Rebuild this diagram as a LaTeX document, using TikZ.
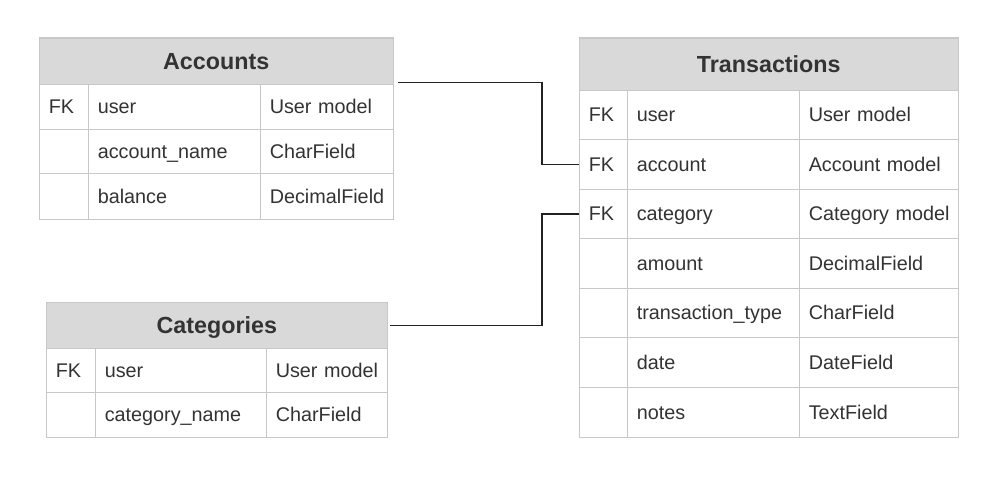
\documentclass[tikz,border=0pt]{standalone}
\usepackage{fontspec}
\setmainfont{Liberation Sans}
\usetikzlibrary{calc}
\definecolor{bordergrey}{HTML}{C8C8C8}
\definecolor{hdrgrey}{HTML}{D9D9D9}
\definecolor{txtgrey}{HTML}{333333}
\definecolor{linegrey}{HTML}{222222}
\tikzset{
  erbox/.style={draw=bordergrey, line width=1.5pt, anchor=north west, inner ysep=0pt, text=txtgrey},
  erhead/.style={erbox, fill=hdrgrey, font=\fontsize{23.3}{24}\selectfont\bfseries,
    text height=16.7pt, text depth=0pt, inner xsep=0pt},
  ercell/.style={erbox, fill=white, font=\fontsize{19.8}{20}\selectfont,
    text height=14.2pt, text depth=0pt, inner xsep=0pt, align=left},
  fkline/.style={draw=linegrey, line width=1.5pt}
}
\newcommand{\ercols}[4]{\def\cA{#1}\def\cB{#2}\def\cC{#3}\def\cD{#4}}
\newcommand{\erhdr}[4]{%
  \pgfmathsetmacro\wH{\cD-\cA}%
  \node[erhead, minimum width=\wH pt, minimum height=#3 pt] (#1) at (\cA,#2) {#4};}
\newcommand{\erpad}{\hspace*{9.5pt}}
\newcommand{\erow}[6]{%
  \pgfmathsetmacro\wA{\cB-\cA}%
  \pgfmathsetmacro\wB{\cC-\cB}%
  \pgfmathsetmacro\wC{\cD-\cC}%
  \node[ercell, text width=\wA pt, minimum height=#3 pt] (#1-k) at (\cA,#2) {\erpad#4};
  \node[ercell, text width=\wB pt, minimum height=#3 pt] (#1-f) at (\cB,#2) {\erpad#5};
  \node[ercell, text width=\wC pt, minimum height=#3 pt] (#1-t) at (\cC,#2) {\erpad#6};}
\begin{document}
\begin{tikzpicture}[x=1pt,y=-1pt]
\useasboundingbox[fill=white] (0,0) rectangle (1006,495);

% Accounts
\ercols{38.5}{87.5}{259.5}{392.5}
\erhdr{acc}{37.5}{46}{Accounts}
\erow{acc1}{83.5}{45}{FK}{user}{User model}
\erow{acc2}{128.5}{44}{}{account\_name}{CharField}
\erow{acc3}{172.5}{46}{}{balance}{DecimalField}

% Categories
\ercols{45.5}{94.5}{265.5}{386.5}
\erhdr{cat}{301.5}{46}{Categories}
\erow{cat1}{347.5}{44}{FK}{user}{User model}
\erow{cat2}{391.5}{45}{}{category\_name}{CharField}

% Transactions
\ercols{578.5}{626.5}{798.5}{957.5}
\erhdr{tr}{37.5}{52}{Transactions}
\erow{tr1}{89.5}{49}{FK}{user}{User model}
\erow{tr2}{138.5}{50}{FK}{account}{Account model}
\erow{tr3}{188.5}{49}{FK}{category}{Category model}
\erow{tr4}{237.5}{50}{}{amount}{DecimalField}
\erow{tr5}{287.5}{49}{}{transaction\_type}{CharField}
\erow{tr6}{336.5}{50}{}{date}{DateField}
\erow{tr7}{386.5}{50}{}{notes}{TextField}

% Connectors
\coordinate (bus) at (542,0);
\coordinate (accout) at ($(acc.south east)+(4,-2.5)$);
\coordinate (catout) at ($(cat.east)+(2,0)$);
\draw[fkline] (accout) -- (accout -| bus) |- (tr2-k.west);
\draw[fkline] (catout) -- (catout -| bus) |- (tr3-k.west);
\end{tikzpicture}
\end{document}
